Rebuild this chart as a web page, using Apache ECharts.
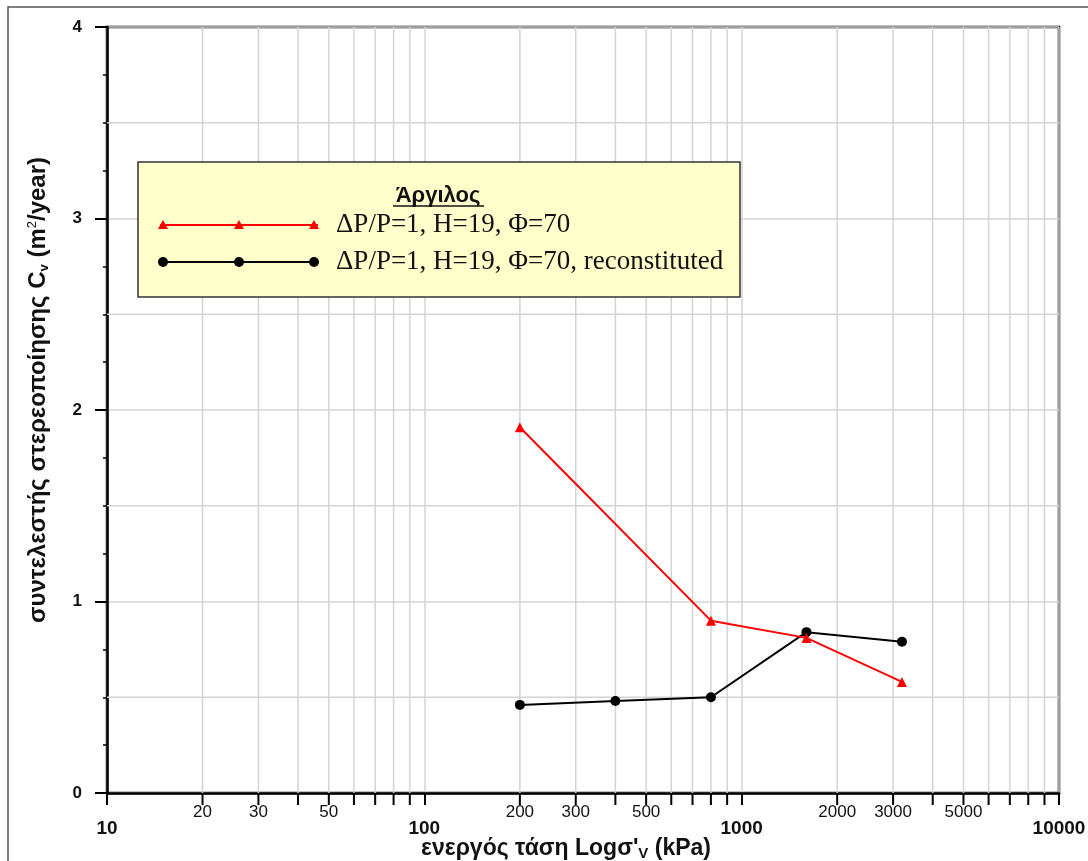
<!DOCTYPE html>
<html>
<head>
<meta charset="utf-8">
<style>
  html, body { margin: 0; padding: 0; background: #fff; }
  #chart { width: 1088px; height: 861px; }
</style>
<script src="https://cdn.jsdelivr.net/npm/echarts@6/dist/echarts.min.js"></script>
</head>
<body>
<div id="chart"></div>
<script>
// Effective stress (kPa) and coefficient of consolidation Cv (m²/year)
const stressUndisturbed = [200, 800, 1600, 3200];
const cvUndisturbed = [1.91, 0.90, 0.81, 0.58];
const stressReconstituted = [200, 400, 800, 1600, 3200];
const cvReconstituted = [0.46, 0.48, 0.50, 0.84, 0.79];

const seriesNames = ['ΔP/P=1, H=19, Φ=70', 'ΔP/P=1, H=19, Φ=70, reconstituted'];
const legendTitle = 'Άργιλος';

// Log-axis intermediate gridlines and the ones that carry a small label
const minorX = [20, 30, 40, 50, 60, 70, 80, 90,
                200, 300, 400, 500, 600, 700, 800, 900,
                2000, 3000, 4000, 5000, 6000, 7000, 8000, 9000];
const minorXLabels = [20, 30, 50, 200, 300, 500, 2000, 3000, 5000];
const halfY = [0.5, 1.5, 2.5, 3.5];

const GRID_COLOR = '#d3d3d3';
const SANS = '"Liberation Sans", Arial, sans-serif';
const SERIF = '"Liberation Serif", "Times New Roman", serif';
const chart = echarts.init(document.getElementById('chart'));

const minorGridSeries = {
  type: 'custom',
  coordinateSystem: 'cartesian2d',
  silent: true,
  clip: false,
  z: 1,
  data: minorX.map(v => [v, 0]),
  renderItem: function (params, api) {
    const v = api.value(0);
    const bot = api.coord([v, 0]);
    const top = api.coord([v, 4]);
    const children = [
      { type: 'line', shape: { x1: bot[0], y1: bot[1], x2: top[0], y2: top[1] },
        style: { stroke: GRID_COLOR, lineWidth: 1.5 } },
      { type: 'line', shape: { x1: bot[0], y1: bot[1], x2: bot[0], y2: bot[1] + 12 },
        style: { stroke: '#000', lineWidth: 2 } }
    ];
    if (minorXLabels.indexOf(v) >= 0) {
      children.push({
        type: 'text',
        style: {
          x: bot[0], y: bot[1] + 19, text: String(v),
          textAlign: 'center', textVerticalAlign: 'middle',
          font: '17px "Liberation Sans Narrow", "Arial Narrow", sans-serif',
          fill: '#111'
        }
      });
    }
    return { type: 'group', children: children };
  }
};

const halfGridSeries = {
  type: 'custom',
  coordinateSystem: 'cartesian2d',
  silent: true,
  z: 1,
  data: halfY.map(v => [10, v]),
  renderItem: function (params, api) {
    const y = api.value(1);
    const a = api.coord([10, y]);
    const b = api.coord([10000, y]);
    return { type: 'line', shape: { x1: a[0], y1: a[1], x2: b[0], y2: b[1] },
      style: { stroke: GRID_COLOR, lineWidth: 1.5 } };
  }
};

const markerXs = [163, 239, 314];

const option = {
  animation: false,
  backgroundColor: '#fff',
  grid: {
    left: 107, top: 27, right: 29, bottom: 68,
    outerBoundsMode: 'none', containLabel: false,
    show: true, borderColor: '#000', borderWidth: 2.5, backgroundColor: 'transparent'
  },
  xAxis: {
    type: 'log', logBase: 10, min: 10, max: 10000,
    axisLine: { show: true, onZero: false, lineStyle: { color: '#000', width: 2.5 } },
    axisTick: { show: true, inside: false, length: 12, lineStyle: { color: '#000', width: 2 } },
    axisLabel: {
      show: true, margin: 26, color: '#111',
      fontFamily: SANS, fontWeight: 'bold', fontSize: 19,
      showMinLabel: true, showMaxLabel: true,
      formatter: v => String(Math.round(v))
    },
    splitLine: { show: true, lineStyle: { color: GRID_COLOR, width: 1.5 } }
  },
  yAxis: {
    type: 'value', min: 0, max: 4, interval: 1,
    axisLine: { show: true, lineStyle: { color: '#000', width: 2.5 } },
    axisTick: { show: true, inside: false, length: 12, lineStyle: { color: '#000', width: 2 } },
    minorTick: { show: true, splitNumber: 4, length: 4, lineStyle: { color: '#000', width: 1.5 } },
    axisLabel: {
      show: true, margin: 25, color: '#111',
      fontFamily: SANS, fontWeight: 'bold', fontSize: 17
    },
    splitLine: { show: true, lineStyle: { color: GRID_COLOR, width: 1.5 } }
  },
  series: [
    minorGridSeries,
    halfGridSeries,
    {
      name: seriesNames[0], type: 'line', z: 5,
      data: stressUndisturbed.map((x, i) => [x, cvUndisturbed[i]]),
      symbol: 'triangle', symbolSize: 10,
      lineStyle: { color: '#ff0000', width: 2 },
      itemStyle: { color: '#ff0000' }
    },
    {
      name: seriesNames[1], type: 'line', z: 4,
      data: stressReconstituted.map((x, i) => [x, cvReconstituted[i]]),
      symbol: 'circle', symbolSize: 10,
      lineStyle: { color: '#000', width: 2 },
      itemStyle: { color: '#000' }
    }
  ],
  graphic: [
    // outer frame
    { type: 'rect', shape: { x: 8, y: 7, width: 1200, height: 1000 },
      style: { fill: 'none', stroke: '#555', lineWidth: 1.5 }, z: 0, silent: true },
    // axis titles
    { type: 'text', x: 566, y: 849, z: 10,
      style: {
        text: '{a|ενεργός τάση Logσ\'}{s|V}{a| (kPa)}',
        textAlign: 'center', textVerticalAlign: 'middle',
        rich: {
          a: { fontFamily: SANS, fontWeight: 'bold', fontSize: 23, fill: '#111' },
          s: { fontFamily: SANS, fontWeight: 'bold', fontSize: 15, fill: '#111',
               padding: [10, 0, 0, 0] }
        }
      } },
    { type: 'text', x: 38, y: 390, rotation: Math.PI / 2, z: 10,
      style: {
        text: '{a|συντελεστής στερεοποίησης C}{s|v}{a| (m}{p|2}{a|/year)}',
        textAlign: 'center', textVerticalAlign: 'middle',
        rich: {
          a: { fontFamily: SANS, fontWeight: 'bold', fontSize: 24, fill: '#111' },
          s: { fontFamily: SANS, fontWeight: 'bold', fontSize: 13, fill: '#111',
               padding: [12, 0, 0, 0] },
          p: { fontFamily: SANS, fontSize: 13, fill: '#111',
               padding: [0, 0, 11, 0] }
        }
      } },
    // legend box
    { type: 'rect', z: 20, shape: { x: 138, y: 162, width: 602, height: 135 },
      style: { fill: '#ffffcc', stroke: '#333', lineWidth: 1.5 } },
    { type: 'text', z: 21, x: 438, y: 196,
      style: { text: legendTitle, textAlign: 'center', textVerticalAlign: 'middle',
        font: 'bold 22px ' + SANS, fill: '#111' } },
    { type: 'line', z: 21, shape: { x1: 393, y1: 206, x2: 484, y2: 206 },
      style: { stroke: '#111', lineWidth: 1.5 } },
    { type: 'line', z: 21, shape: { x1: 160, y1: 225, x2: 318, y2: 225 },
      style: { stroke: '#ff0000', lineWidth: 2 } },
    ...markerXs.map(mx => ({ type: 'polygon', z: 22,
      shape: { points: [[mx, 220], [mx - 5, 229], [mx + 5, 229]] },
      style: { fill: '#ff0000' } })),
    { type: 'text', z: 21, x: 336, y: 225,
      style: { text: seriesNames[0], textVerticalAlign: 'middle',
        font: '27px ' + SERIF, fill: '#111' } },
    { type: 'line', z: 21, shape: { x1: 163, y1: 262, x2: 314, y2: 262 },
      style: { stroke: '#000', lineWidth: 2 } },
    ...markerXs.map(mx => ({ type: 'circle', z: 22,
      shape: { cx: mx, cy: 262, r: 5 }, style: { fill: '#000' } })),
    { type: 'text', z: 21, x: 336, y: 262,
      style: { text: seriesNames[1], textVerticalAlign: 'middle',
        font: '27px ' + SERIF, fill: '#111' } }
  ]
};

chart.setOption(option);
</script>
</body>
</html>
